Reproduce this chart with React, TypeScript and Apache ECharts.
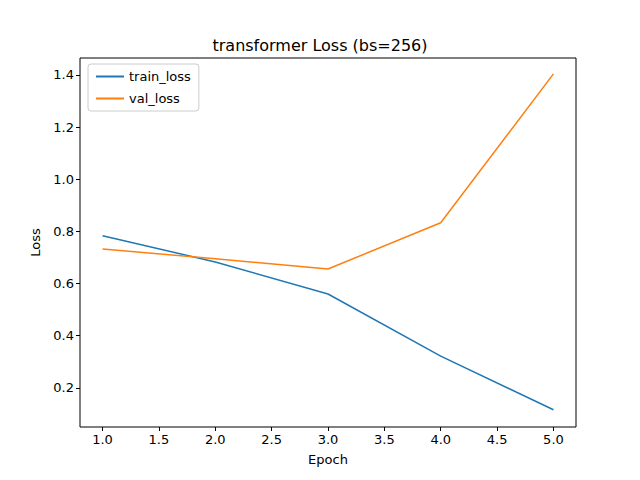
import { useEffect, useRef } from 'react';
import * as echarts from 'echarts';

const epochs = [1, 2, 3, 4, 5];
const trainLoss = [0.783, 0.683, 0.56, 0.322, 0.116];
const valLoss = [0.733, 0.695, 0.656, 0.833, 1.404];
const xTicks = [1.0, 1.5, 2.0, 2.5, 3.0, 3.5, 4.0, 4.5, 5.0];
const yTicks = [0.2, 0.4, 0.6, 0.8, 1.0, 1.2, 1.4];

const font = 'DejaVu Sans';

export default function App() {
  const chartRef = useRef<HTMLDivElement>(null);

  useEffect(() => {
    if (!chartRef.current) return;
    const chart = echarts.init(chartRef.current, null, { renderer: 'svg' });

    const axisCommon = {
      axisLine: { show: false },
      splitLine: { show: false },
      axisTick: { show: true, inside: false, length: 4, lineStyle: { color: '#000' } },
      axisLabel: { color: '#000', fontSize: 13, fontFamily: font, margin: 6 },
      nameTextStyle: { color: '#000', fontSize: 13, fontFamily: font },
    };

    chart.setOption({
      animation: false,
      backgroundColor: '#fff',
      title: {
        text: 'transformer Loss (bs=256)',
        left: 'center',
        top: 32,
        textStyle: { color: '#000', fontSize: 16, fontWeight: 'normal', fontFamily: font },
      },
      legend: {
        orient: 'vertical',
        left: 88,
        top: 64,
        padding: [6, 8],
        itemGap: 9,
        itemWidth: 28,
        itemHeight: 2,
        borderColor: '#ccc',
        borderWidth: 1,
        borderRadius: 3,
        icon: 'rect',
        textStyle: { color: '#000', fontSize: 13, fontFamily: font },
        data: [
          { name: 'train_loss', itemStyle: { color: '#1f77b4' } },
          { name: 'val_loss', itemStyle: { color: '#ff7f0e' } },
        ],
      },
      grid: {
        left: 80, right: 64, top: 58, bottom: 53,
        show: true, borderColor: '#000', borderWidth: 1, backgroundColor: '#fff',
      },
      xAxis: {
        ...axisCommon,
        type: 'value',
        min: 0.8,
        max: 5.2,
        name: 'Epoch',
        nameLocation: 'middle',
        nameGap: 26,
        axisTick: { ...axisCommon.axisTick, customValues: xTicks },
        axisLabel: { ...axisCommon.axisLabel, customValues: xTicks, formatter: (v: number) => v.toFixed(1) },
      },
      yAxis: {
        ...axisCommon,
        type: 'value',
        min: 0.05,
        max: 1.465,
        name: 'Loss',
        nameLocation: 'middle',
        nameGap: 38,
        axisTick: { ...axisCommon.axisTick, customValues: yTicks },
        axisLabel: { ...axisCommon.axisLabel, customValues: yTicks, formatter: (v: number) => v.toFixed(1) },
      },
      series: [
        {
          name: 'train_loss',
          type: 'line',
          data: epochs.map((e, i) => [e, trainLoss[i]]),
          symbol: 'none',
          lineStyle: { color: '#1f77b4', width: 1.5 },
          itemStyle: { color: '#1f77b4' },
        },
        {
          name: 'val_loss',
          type: 'line',
          data: epochs.map((e, i) => [e, valLoss[i]]),
          symbol: 'none',
          lineStyle: { color: '#ff7f0e', width: 1.5 },
          itemStyle: { color: '#ff7f0e' },
        },
      ],
    });

    return () => chart.dispose();
  }, []);

  return <div ref={chartRef} style={{ position: 'fixed', left: 0, top: 0, width: 640, height: 480 }} />;
}
